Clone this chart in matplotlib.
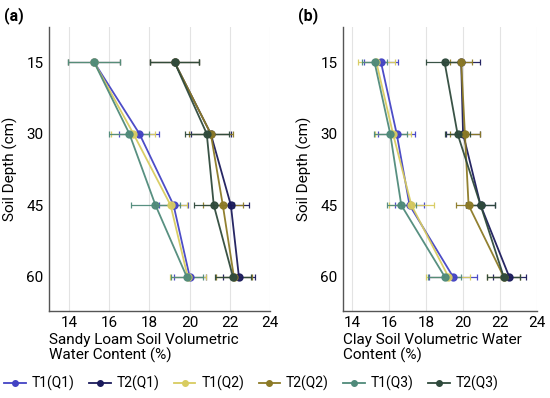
import matplotlib
matplotlib.use("Agg")
import matplotlib.pyplot as plt
from matplotlib.lines import Line2D
import numpy as np

plt.rcParams['font.family'] = ['Roboto', 'DejaVu Sans']

depths = [15, 30, 45, 60]
series = ["T1(Q1)", "T2(Q1)", "T1(Q2)", "T2(Q2)", "T1(Q3)", "T2(Q3)"]
colors = ["#4343c4", "#1b1b5c", "#d8cc60", "#8c7a26", "#4f8a7a", "#2f4a3c"]

# Sandy loam soil (panel a)
sandy = {
    "T1(Q1)": [15.25, 17.5, 19.2, 20.0],
    "T2(Q1)": [19.25, 21.05, 22.05, 22.45],
    "T1(Q2)": [15.25, 17.2, 19.05, 19.9],
    "T2(Q2)": [19.25, 21.05, 21.65, 22.2],
    "T1(Q3)": [15.25, 17.0, 18.3, 19.85],
    "T2(Q3)": [19.25, 20.85, 21.2, 22.15],
}
sandy_err = {
    "T1(Q1)": [1.3, 1.0, 0.7, 0.8],
    "T2(Q1)": [1.2, 1.0, 0.9, 0.8],
    "T1(Q2)": [1.3, 1.1, 0.8, 0.9],
    "T2(Q2)": [1.2, 1.1, 1.0, 0.9],
    "T1(Q3)": [1.3, 1.0, 1.2, 0.8],
    "T2(Q3)": [1.2, 1.1, 1.0, 0.9],
}
# Clay soil (panel b)
clay = {
    "T1(Q1)": [15.55, 16.4, 17.1, 19.45],
    "T2(Q1)": [19.9, 20.0, 20.95, 22.5],
    "T1(Q2)": [15.3, 16.2, 17.2, 19.2],
    "T2(Q2)": [19.9, 20.1, 20.3, 22.2],
    "T1(Q3)": [15.2, 16.05, 16.65, 19.0],
    "T2(Q3)": [19.0, 19.7, 20.95, 22.2],
}
clay_err = {
    "T1(Q1)": [0.9, 1.0, 0.8, 1.3],
    "T2(Q1)": [1.0, 0.9, 0.8, 0.9],
    "T1(Q2)": [1.0, 1.0, 1.2, 1.2],
    "T2(Q2)": [0.6, 0.8, 0.7, 0.9],
    "T1(Q3)": [0.7, 0.9, 0.8, 0.9],
    "T2(Q3)": [1.0, 0.7, 0.8, 0.9],
}

xticks = [14, 16, 18, 20, 22, 24]

fig = plt.figure(figsize=(5.5, 3.98), dpi=100)
ax1 = fig.add_axes([0.089, 0.219, 0.402, 0.713])
ax2 = fig.add_axes([0.624, 0.219, 0.352, 0.713])
FS = 11

def draw(ax, data, err, xlim, xlabel):
    for s, c in zip(series, colors):
        ax.errorbar(data[s], depths, xerr=err[s], color=c, marker='o', ms=5,
                    lw=1.3, elinewidth=0.9, capsize=2.5, capthick=0.9,
                    ecolor=c, label=s, alpha=0.95)
    ax.set_xlim(*xlim)
    ax.set_ylim(67.2, 7.6)
    ax.set_yticks(depths)
    ax.set_xticks(xticks)
    ax.grid(axis='x', color='#e3e3e3', lw=0.8)
    ax.set_axisbelow(True)
    for sp in ['top', 'right']:
        ax.spines[sp].set_visible(False)
    for sp in ['left', 'bottom']:
        ax.spines[sp].set_color('#555555')
        ax.spines[sp].set_linewidth(1.0)
    ax.tick_params(length=0, labelsize=FS, pad=4)
    ax.set_ylabel("Soil Depth (cm)", fontsize=FS, labelpad=6)
    ax.set_xlabel(xlabel, fontsize=FS, x=0.0, ha='left', labelpad=2,
                  linespacing=1.05)

draw(ax1, sandy, sandy_err, (13, 24), "Sandy Loam Soil Volumetric\nWater Content (%)")
draw(ax2, clay, clay_err, (13.5, 24), "Clay Soil Volumetric Water\nContent (%)")

fig.text(0.008, 0.962, "(a)", fontsize=11.5, fontweight='bold', va='center', ha='left')
fig.text(0.541, 0.962, "(b)", fontsize=11.5, fontweight='bold', va='center', ha='left')

handles = [Line2D([], [], color=c, marker='o', ms=4, lw=1.3) for c in colors]
fig.legend(handles, series, loc='center left', bbox_to_anchor=(0.0, 0.037),
           ncol=6, frameon=False, fontsize=10, handlelength=1.55,
           handletextpad=0.42, columnspacing=1.05, borderaxespad=0, borderpad=0.3)

fig.savefig("out.png", dpi=100)
